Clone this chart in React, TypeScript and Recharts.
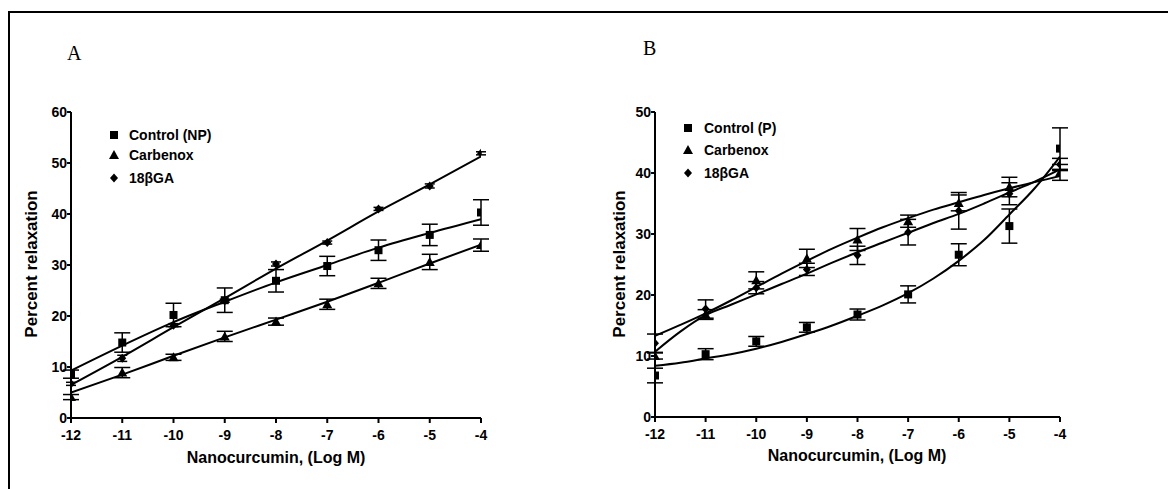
import React from "react";
import { ComposedChart, Line, Scatter, XAxis, YAxis, ErrorBar } from "recharts";

// ---------- data ----------
const LOG_M = [-12, -11, -10, -9, -8, -7, -6, -5, -4];

// Panel A (non-pregnant)
const A_CONTROL = [8.6, 14.8, 20.2, 23.1, 26.9, 29.8, 32.9, 35.9, 40.3];
const A_CONTROL_SEM = [0.8, 1.9, 2.3, 2.4, 2.2, 1.9, 2.0, 2.1, 2.5];
const A_CARBENOX = [4.1, 8.9, 11.9, 16.0, 18.9, 22.3, 26.4, 30.6, 33.9];
const A_CARBENOX_SEM = [0.5, 1.0, 0.6, 1.0, 0.7, 1.0, 1.0, 1.5, 1.2];
const A_GA = [6.7, 11.7, 18.2, 23.0, 30.2, 34.4, 41.0, 45.5, 51.9];
const A_GA_SEM = [0.3, 0.6, 0.3, 0.3, 0.4, 0.3, 0.3, 0.4, 0.3];

const A_FIT_X = [-12, -11, -10, -9, -8, -7, -6, -5, -4];
const A_CONTROL_FIT = [9.3, 14.2, 18.8, 22.8, 26.6, 30.0, 33.4, 36.3, 39.0];
const A_CARBENOX_FIT = [5.0, 8.5, 12.2, 15.8, 19.3, 22.8, 26.5, 30.3, 34.0];
const A_GA_FIT = [6.5, 12.0, 17.8, 23.5, 29.3, 34.8, 40.5, 45.8, 51.3];

// Panel B (pregnant)
const B_CONTROL = [6.8, 10.3, 12.4, 14.7, 16.8, 20.1, 26.6, 31.3, 44.0];
const B_CONTROL_SEM = [1.2, 0.9, 0.8, 0.8, 0.9, 1.4, 1.8, 2.8, 3.4];
const B_CARBENOX = [10.0, 16.8, 22.4, 26.0, 29.1, 32.1, 35.1, 37.7, 40.1];
const B_CARBENOX_SEM = [0.5, 0.8, 1.4, 1.5, 1.8, 1.0, 1.3, 1.6, 1.3];
const B_GA = [12.1, 17.7, 21.2, 24.2, 26.5, 30.3, 33.8, 36.6, 41.4];
const B_GA_SEM = [1.5, 1.5, 1.0, 1.0, 1.5, 2.1, 3.0, 1.8, 1.0];

const B_FIT_X = [-12, -11.5, -11, -10.5, -10, -9.5, -9, -8.5, -8, -7.5, -7, -6.5, -6, -5.5, -5, -4.5, -4];
const B_CONTROL_FIT = [8.4, 8.9, 9.6, 10.3, 11.2, 12.3, 13.6, 15.0, 16.6, 18.3, 20.3, 22.7, 25.6, 29.0, 33.2, 37.5, 42.7];
const B_CARBENOX_FIT = [13.3, 15.1, 17.0, 19.1, 21.3, 23.5, 25.6, 27.6, 29.4, 31.1, 32.6, 34.0, 35.2, 36.4, 37.5, 38.5, 39.5];
const B_GA_FIT = [10.7, 14.0, 16.7, 18.4, 20.1, 21.8, 23.5, 25.3, 27.0, 28.6, 30.2, 31.8, 33.3, 35.0, 36.8, 38.6, 40.6];

const A_Y_TICKS = [0, 10, 20, 30, 40, 50, 60];
const B_Y_TICKS = [0, 10, 20, 30, 40, 50];

const A_LABELS = ["Control (NP)", "Carbenox", "18βGA"];
const B_LABELS = ["Control (P)", "Carbenox", "18βGA"];

// ---------- helpers ----------
const pts = (ys: number[], errs: number[]) => LOG_M.map((x, i) => ({ x, y: ys[i], err: errs[i] }));
const fit = (xs: number[], ys: number[]) => xs.map((x, i) => ({ x, y: ys[i] }));

const FONT = "'Liberation Sans', Arial, sans-serif";

const Square = (p: any) => <rect x={p.cx - 4} y={p.cy - 4} width={8} height={8} fill="#000" />;
const Triangle = (p: any) => (
  <polygon points={`${p.cx},${p.cy - 5} ${p.cx - 5},${p.cy + 4} ${p.cx + 5},${p.cy + 4}`} fill="#000" />
);
const Diamond = (p: any) => (
  <polygon points={`${p.cx},${p.cy - 4.5} ${p.cx + 4},${p.cy} ${p.cx},${p.cy + 4.5} ${p.cx - 4},${p.cy}`} fill="#000" />
);
const SHAPES = [Square, Triangle, Diamond];

const LegendIcon = ({ i }: { i: number }) => {
  const S = SHAPES[i];
  return (
    <svg width={12} height={12} style={{ position: "absolute", left: -6, top: -6 }}>
      <S cx={6} cy={6} />
    </svg>
  );
};

type PanelProps = {
  left: number;
  width: number;
  margin: { top: number; right: number; bottom: number; left: number };
  yMax: number;
  yTicks: number[];
  series: { pts: any[]; fit: any[]; cap: number }[];
  labels: string[];
  legendX: number;
  textX: number;
  legendY: number[];
  title: string;
  titleX: number;
  titleY: number;
  xTitleX: number;
  xTitleY: number;
  yTitleX: number;
  yTitleY: number;
};

const Panel = (p: PanelProps) => (
  <div style={{ position: "absolute", left: p.left, top: 0, width: p.width, height: 489 }}>
    <ComposedChart width={p.width} height={489} margin={p.margin}>
      <XAxis
        dataKey="x"
        type="number"
        domain={[-12, -4]}
        ticks={LOG_M}
        allowDataOverflow
        height={30}
        stroke="#000"
        strokeWidth={2}
        tickSize={5}
        tickMargin={7}
        tickLine={{ stroke: "#000", strokeWidth: 2 }}
        tick={{ fill: "#000", fontSize: 14, fontWeight: "bold", fontFamily: FONT }}
      />
      <YAxis
        type="number"
        domain={[0, p.yMax]}
        ticks={p.yTicks}
        allowDataOverflow
        width={40}
        stroke="#000"
        strokeWidth={2}
        tickSize={4}
        tickMargin={0}
        tickLine={{ stroke: "#000", strokeWidth: 2 }}
        tick={{ fill: "#000", fontSize: 14, fontWeight: "bold", fontFamily: FONT }}
      />
      {p.series.map((s, i) => (
        <Line
          key={`fit${i}`}
          data={s.fit}
          dataKey="y"
          type="monotone"
          dot={false}
          activeDot={false}
          stroke="#000"
          strokeWidth={2}
          isAnimationActive={false}
        />
      ))}
      {p.series.map((s, i) => (
        <Scatter key={`pts${i}`} data={s.pts} dataKey="y" shape={SHAPES[i]} isAnimationActive={false}>
          <ErrorBar dataKey="err" direction="y" width={s.cap} stroke="#000" strokeWidth={1.5} />
        </Scatter>
      ))}
    </ComposedChart>

    {p.labels.map((lab, i) => (
      <React.Fragment key={lab}>
        <div style={{ position: "absolute", left: p.legendX, top: p.legendY[i] }}>
          <LegendIcon i={i} />
        </div>
        <div
          style={{
            position: "absolute",
            left: p.textX,
            top: p.legendY[i] - 9,
            fontFamily: FONT,
            fontWeight: "bold",
            fontSize: 14,
            lineHeight: "18px",
            whiteSpace: "nowrap",
            color: "#000",
          }}
        >
          {lab}
        </div>
      </React.Fragment>
    ))}

    <div
      style={{
        position: "absolute",
        left: p.titleX,
        top: p.titleY,
        fontFamily: "'Liberation Serif', 'Times New Roman', serif",
        fontSize: 20,
        lineHeight: "20px",
        color: "#000",
      }}
    >
      {p.title}
    </div>

    <div
      style={{
        position: "absolute",
        left: p.xTitleX,
        top: p.xTitleY,
        transform: "translate(-50%, -50%)",
        fontFamily: FONT,
        fontWeight: "bold",
        fontSize: 16,
        whiteSpace: "nowrap",
        color: "#000",
      }}
    >
      Nanocurcumin, (Log M)
    </div>
    <div
      style={{
        position: "absolute",
        left: p.yTitleX,
        top: p.yTitleY,
        transform: "translate(-50%, -50%) rotate(-90deg)",
        fontFamily: FONT,
        fontWeight: "bold",
        fontSize: 17,
        whiteSpace: "nowrap",
        color: "#000",
      }}
    >
      Percent relaxation
    </div>
  </div>
);

export default function App() {
  const aSeries = [
    { pts: pts(A_CONTROL, A_CONTROL_SEM), fit: fit(A_FIT_X, A_CONTROL_FIT), cap: 8 },
    { pts: pts(A_CARBENOX, A_CARBENOX_SEM), fit: fit(A_FIT_X, A_CARBENOX_FIT), cap: 8 },
    { pts: pts(A_GA, A_GA_SEM), fit: fit(A_FIT_X, A_GA_FIT), cap: 5 },
  ];
  const bSeries = [
    { pts: pts(B_CONTROL, B_CONTROL_SEM), fit: fit(B_FIT_X, B_CONTROL_FIT), cap: 8 },
    { pts: pts(B_CARBENOX, B_CARBENOX_SEM), fit: fit(B_FIT_X, B_CARBENOX_FIT), cap: 8 },
    { pts: pts(B_GA, B_GA_SEM), fit: fit(B_FIT_X, B_GA_FIT), cap: 8 },
  ];
  return (
    <div style={{ position: "absolute", left: 0, top: 0, width: 1168, height: 489, background: "#fff", overflow: "hidden" }}>
      <div style={{ position: "absolute", left: 8, top: 11, right: 0, height: 2, background: "#000" }} />
      <div style={{ position: "absolute", left: 8, top: 11, width: 2, bottom: 0, background: "#000" }} />
      <Panel
        left={0}
        width={580}
        margin={{ top: 112, right: 99, bottom: 41, left: 31 }}
        yMax={60}
        yTicks={A_Y_TICKS}
        series={aSeries}
        labels={A_LABELS}
        legendX={114}
        textX={129}
        legendY={[135, 155, 178]}
        title="A"
        titleX={67}
        titleY={43}
        xTitleX={276}
        xTitleY={458}
        yTitleX={32}
        yTitleY={264}
      />
      <Panel
        left={580}
        width={588}
        margin={{ top: 112, right: 108, bottom: 42, left: 35 }}
        yMax={50}
        yTicks={B_Y_TICKS}
        series={bSeries}
        labels={B_LABELS}
        legendX={108}
        textX={124}
        legendY={[128, 150, 173]}
        title="B"
        titleX={63}
        titleY={38}
        xTitleX={277}
        xTitleY={456}
        yTitleX={40}
        yTitleY={264}
      />
    </div>
  );
}
